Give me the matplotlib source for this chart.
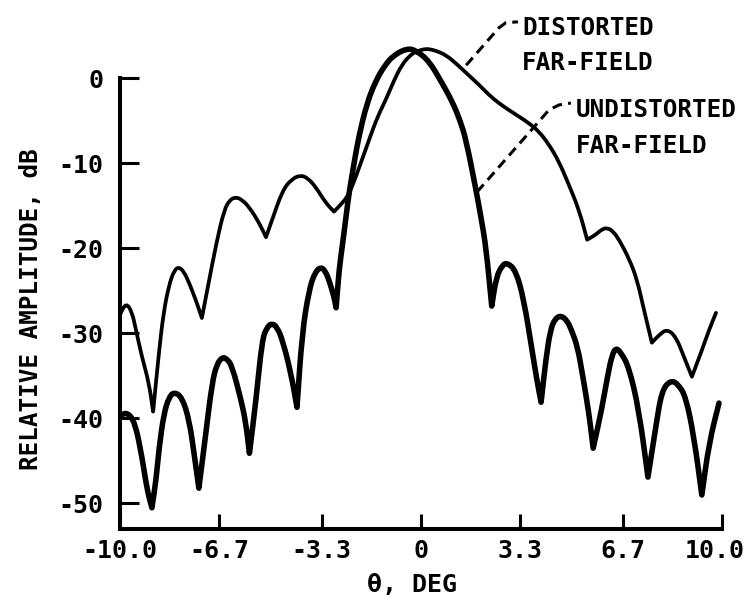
import matplotlib
matplotlib.use("Agg")
import matplotlib.pyplot as plt
from matplotlib.path import Path
from matplotlib.patches import PathPatch

# ---- data ----
theta_undistorted = [
    -9.97, -9.75, -9.5, -9.27, -9.1, -8.94, -8.8, -8.7, -8.54, -8.37, -8.2, -7.94, -7.7, -7.54, -7.38,
    -7.15, -6.94, -6.78, -6.6, -6.45, -6.28, -5.98, -5.82, -5.7,
    -5.48, -5.28, -5.12, -4.95, -4.78, -4.6, -4.32, -4.12,
    -3.95, -3.72, -3.52, -3.32, -3.18, -3.06, -2.89, -2.82,
    -2.72, -2.62, -2.48, -2.39, -2.2, -2.06, -1.8, -1.5, -1.2, -0.9, -0.45, -0.15,
    0.27, 0.7, 1.03, 1.3, 1.5, 1.83, 2.0, 2.16, 2.35,
    2.5, 2.7, 2.86, 3.15, 3.42, 3.69, 3.85, 3.99,
    4.15, 4.3, 4.45, 4.65, 4.85, 5.0, 5.2, 5.35, 5.58, 5.72,
    6.0, 6.2, 6.35, 6.48, 6.65, 6.91, 7.24, 7.54,
    7.8, 8.0, 8.3, 8.55, 8.8, 9.07, 9.33, 9.57, 9.9,
]
db_undistorted = [
    -39.6, -39.3, -40.5, -44.5, -48.4, -50.5, -47.2, -43.4, -39.4, -37.5, -36.9, -37.5, -40.2, -44.1, -48.2,
    -41.8, -35.8, -33.6, -32.8, -33.0, -33.8, -37.8, -40.5, -44.1,
    -37.8, -30.8, -29.3, -28.8, -29.3, -30.8, -34.7, -38.7,
    -30.0, -24.9, -22.8, -22.2, -22.7, -23.7, -25.7, -27.0,
    -22.5, -19.9, -16.0, -13.5, -9.5, -6.8, -3.0, -0.3, 1.5, 2.7, 3.5, 3.2,
    2.0, -0.6, -2.7, -5.0, -7.3, -13.2, -16.5, -19.9, -26.8,
    -23.4, -22.0, -21.7, -22.6, -26.1, -32.0, -35.5, -38.1,
    -33.0, -29.6, -28.3, -27.9, -28.5, -29.6, -31.6, -34.5, -39.4, -43.5,
    -39.0, -35.0, -32.5, -31.7, -32.3, -34.0, -39.0, -46.9,
    -41.0, -36.7, -35.5, -36.0, -37.5, -42.2, -49.0, -42.9, -38.2,
]

theta_distorted = [
    -10.0, -9.8, -9.6, -9.47, -9.27, -9.04, -8.9,
    -8.7, -8.55, -8.37, -8.2, -8.04, -7.87, -7.7, -7.48, -7.28,
    -7.1, -6.8, -6.54, -6.35, -6.15, -5.95, -5.7, -5.38, -5.15,
    -4.95, -4.6, -4.3, -4.0, -3.75, -3.5, -3.16, -2.89,
    -2.62, -2.46, -2.29, -2.0, -1.73, -1.45, -1.16, -0.9, -0.63, -0.35, -0.17,
    0.1, 0.27, 0.5, 0.83, 1.2, 1.5, 1.93, 2.26, 2.6, 3.02, 3.59, 3.92, 4.25, 4.58, 4.92, 5.25, 5.52,
    5.81, 6.0, 6.18, 6.38, 6.58, 6.91, 7.18, 7.41, 7.67,
    7.91, 8.17, 8.47, 8.74, 9.0, 9.3, 9.57, 9.8,
]
db_distorted = [
    -27.8, -26.4, -27.5, -29.6, -32.8, -35.8, -39.2,
    -32.0, -27.5, -24.3, -22.6, -22.2, -22.8, -24.1, -26.1, -28.2,
    -24.9, -19.4, -15.5, -14.3, -14.0, -14.3, -15.2, -17.0, -18.7,
    -16.7, -13.2, -11.9, -11.4, -11.8, -12.8, -14.7, -15.7,
    -14.7, -14.0, -12.8, -10.0, -7.3, -4.6, -2.5, -0.3, 1.6, 2.7, 3.1,
    3.4, 3.4, 3.2, 2.7, 1.6, 0.6, -0.8, -2.0, -3.0, -4.0, -5.3, -6.3, -7.8, -9.8, -12.6, -15.5, -19.0,
    -18.4, -17.8, -17.6, -18.0, -19.0, -21.2, -23.7, -27.3, -31.1,
    -30.2, -29.5, -30.4, -32.8, -35.1, -32.3, -29.6, -27.6,
]

x_ticks = [-10.0, -6.7, -3.3, 0.0, 3.3, 6.7, 10.0]
x_tick_labels = ["-10.0", "-6.7", "-3.3", "0", "3.3", "6.7", "10.0"]
y_ticks = [0, -10, -20, -30, -40, -50]
y_tick_labels = ["0", "-10", "-20", "-30", "-40", "-50"]

# leader lines for the annotations
leader_distorted_x = [1.5, 2.59, 2.82, 3.22]
leader_distorted_y = [1.5, 5.9, 6.5, 6.6]
leader_undistorted_x = [1.86, 4.25, 4.58, 4.98]
leader_undistorted_y = [-13.4, -3.76, -3.17, -2.94]

plt.rcParams['font.family'] = ['DejaVu Sans Mono', 'DejaVu Sans']
plt.rcParams['font.weight'] = 'bold'

W, H = 748, 603
fig = plt.figure(figsize=(W / 100, H / 100), dpi=100)

ymin, ymax = -53.0, 5.0
px_per_db = 8.51
y0_px = 78.0
top_px = y0_px - ymax * px_per_db
bot_px = y0_px - ymin * px_per_db
left_px, right_px = 120.0, 722.0
ax = fig.add_axes([left_px / W, (H - bot_px) / H, (right_px - left_px) / W, (bot_px - top_px) / H])
ax.set_xlim(-10, 10)
ax.set_ylim(ymin, ymax)


def smooth_path(xs, ys):
    """Quadratic Bezier path using the read points as control points;
    local minima (pattern nulls) are kept as sharp corners."""
    verts = [(xs[0], ys[0])]
    codes = [Path.MOVETO]
    verts.append(((xs[0] + xs[1]) / 2, (ys[0] + ys[1]) / 2))
    codes.append(Path.LINETO)
    for i in range(1, len(xs) - 1):
        mid = ((xs[i] + xs[i + 1]) / 2, (ys[i] + ys[i + 1]) / 2)
        if ys[i] < ys[i - 1] and ys[i] < ys[i + 1]:
            verts += [(xs[i], ys[i]), mid]
            codes += [Path.LINETO, Path.LINETO]
        else:
            verts += [(xs[i], ys[i]), mid]
            codes += [Path.CURVE3, Path.CURVE3]
    verts.append((xs[-1], ys[-1]))
    codes.append(Path.LINETO)
    return Path(verts, codes)


ax.add_patch(PathPatch(smooth_path(theta_distorted, db_distorted), fill=False,
                       edgecolor='black', lw=2.7, joinstyle='round', capstyle='round',
                       clip_on=False))
ax.add_patch(PathPatch(smooth_path(theta_undistorted, db_undistorted), fill=False,
                       edgecolor='black', lw=4.0, joinstyle='round', capstyle='round',
                       clip_on=False))

for s in ['top', 'right']:
    ax.spines[s].set_visible(False)
ax.spines['left'].set_bounds(ymin, 0)
ax.spines['bottom'].set_bounds(-10, 10)
for s in ['left', 'bottom']:
    ax.spines[s].set_linewidth(2.9)
    ax.spines[s].set_capstyle('projecting')

ax.set_xticks(x_ticks)
ax.set_xticklabels(x_tick_labels[:-1] + [""])
ax.set_yticks(y_ticks)
ax.set_yticklabels(y_tick_labels)
ax.tick_params(axis='y', direction='in', length=14, width=2.2, pad=12, labelsize=18)
ax.tick_params(axis='x', direction='in', length=11, width=2.2, pad=7, labelsize=18)
for lab in ax.get_xticklabels() + ax.get_yticklabels():
    lab.set_fontweight('bold')
# last x tick label, nudged left so it stays inside the figure
ax.annotate(x_tick_labels[-1], xy=(x_ticks[-1], ymin), xycoords='data',
            xytext=(-5, -7), textcoords='offset points', ha='center', va='top',
            fontsize=18, fontweight='bold', annotation_clip=False)

# leaders
ax.plot(leader_distorted_x, leader_distorted_y, color='black', lw=2.2,
        dashes=[3.3, 2.0], clip_on=False)
ax.plot(leader_undistorted_x, leader_undistorted_y, color='black', lw=2.2,
        dashes=[3.3, 2.0], clip_on=False)

txt = dict(fontsize=17.5, fontweight='bold', ha='left', va='baseline', clip_on=False)
ax.text(3.36, 5.05, "DISTORTED", **txt)
ax.text(3.36, 0.94, "FAR-FIELD", **txt)
ax.text(5.15, -4.58, "UNDISTORTED", **txt)
ax.text(5.15, -8.81, "FAR-FIELD", **txt)

fig.text(31 / W, 1 - 309 / H, "RELATIVE AMPLITUDE, dB", rotation=90,
         ha='center', va='center', fontsize=17.5, fontweight='bold')
fig.text(412 / W, 1 - 585 / H, "θ, DEG", ha='center', va='center',
         fontsize=18, fontweight='bold')

fig.savefig("out.png", dpi=100, facecolor='white')
